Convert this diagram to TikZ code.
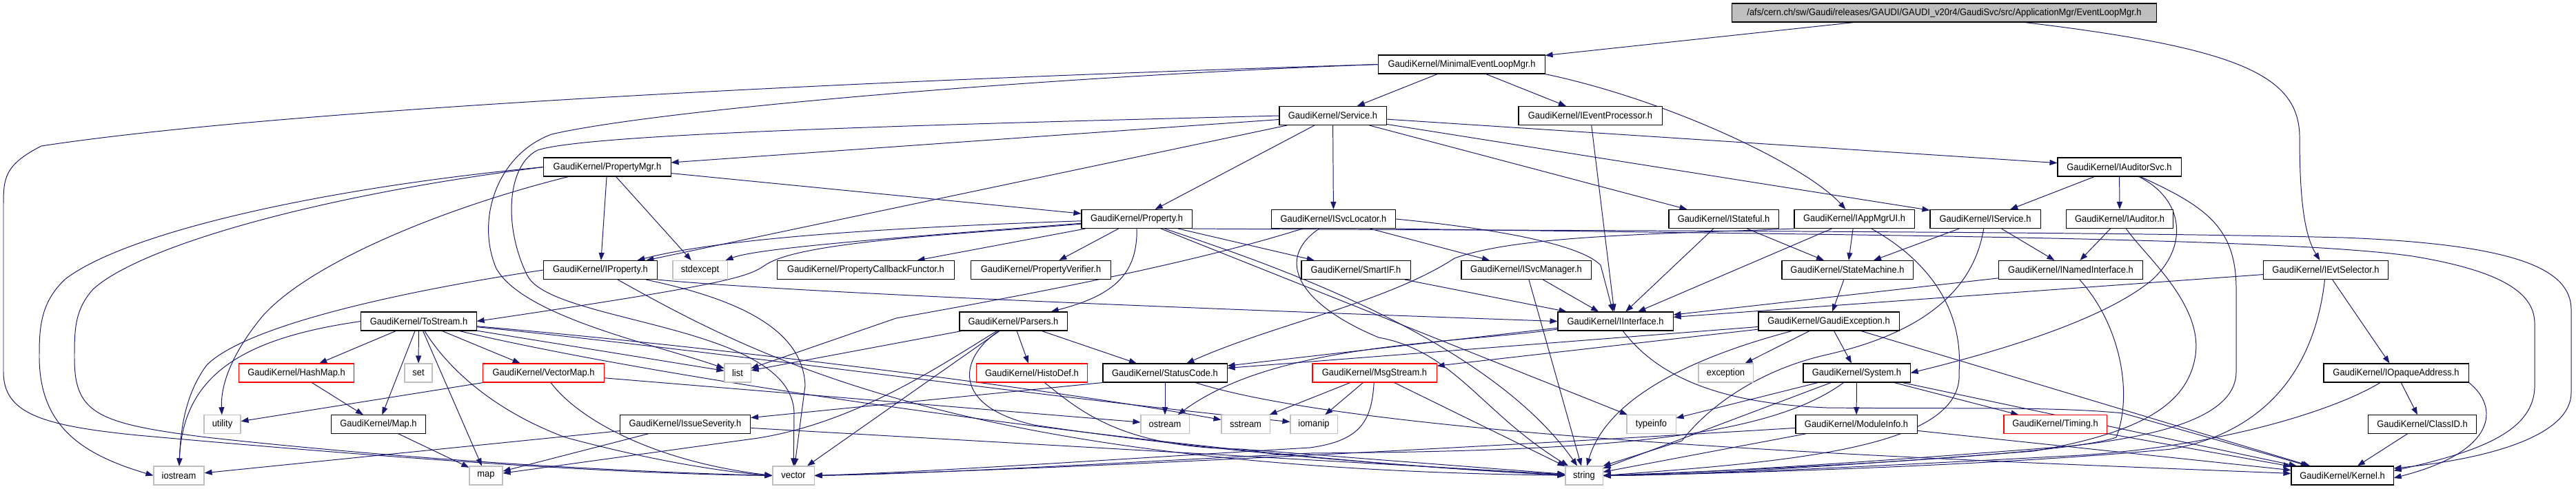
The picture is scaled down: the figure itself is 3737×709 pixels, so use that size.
\documentclass[tikz,border=0pt]{standalone}
\usepackage{fontspec}
\setmainfont{Liberation Sans}[FakeStretch=0.93]
\usetikzlibrary{arrows.meta,backgrounds}
\definecolor{edgeblue}{HTML}{191970}
\definecolor{sysgray}{HTML}{BFBFBF}
\begin{document}
\begin{tikzpicture}[x=0.01cm,y=-0.01cm,
  every node/.style={font=\fontsize{3.95}{4.7}\selectfont, inner sep=0pt, minimum height=0.27cm, fill=white, line width=0.3pt},
  kbox/.style={draw=black},
  rbox/.style={draw=red},
  gbox/.style={draw=sysgray},
  rootbox/.style={draw=black, fill=sysgray},
  dep/.style={draw=edgeblue, line width=0.28pt, -{Triangle[length=0.11cm,width=0.08cm]}}]
\useasboundingbox (0,0) rectangle (3737,709);
% row 1
\node[rootbox, minimum width=6.15cm] (root) at (2820.5,18.5) {/afs/cern.ch/sw/Gaudi/releases/GAUDI/GAUDI\_v20r4/GaudiSvc/src/ApplicationMgr/EventLoopMgr.h};
% row 2
\node[kbox, minimum width=2.41cm] (mel) at (2120.5,93.5) {GaudiKernel/MinimalEventLoopMgr.h};
% row 3
\node[kbox, minimum width=1.55cm] (svc) at (1933.5,168) {GaudiKernel/Service.h};
\node[kbox, minimum width=2.08cm] (ievproc) at (2307,168) {GaudiKernel/IEventProcessor.h};
% row 4
\node[kbox, minimum width=1.84cm] (pmgr) at (881,242.5) {GaudiKernel/PropertyMgr.h};
\node[kbox, minimum width=1.79cm] (audsvc) at (3074.5,242.5) {GaudiKernel/IAuditorSvc.h};
% row 5
\node[kbox, minimum width=1.60cm] (prop) at (1649,318) {GaudiKernel/Property.h};
\node[kbox, minimum width=1.80cm] (svcloc) at (1934.5,318) {GaudiKernel/ISvcLocator.h};
\node[kbox, minimum width=1.59cm] (istateful) at (2500.5,318) {GaudiKernel/IStateful.h};
\node[kbox, minimum width=1.74cm] (appmgr) at (2690,318) {GaudiKernel/IAppMgrUI.h};
\node[kbox, minimum width=1.60cm] (iservice) at (2880,318) {GaudiKernel/IService.h};
\node[kbox, minimum width=1.55cm] (auditor) at (3075,318) {GaudiKernel/IAuditor.h};
% row 6
\node[kbox, minimum width=1.64cm] (iprop) at (871,392) {GaudiKernel/IProperty.h};
\node[gbox, minimum width=0.79cm] (stdexc) at (1015.5,392) {stdexcept};
\node[kbox, minimum width=2.56cm] (pcf) at (1256,392) {GaudiKernel/PropertyCallbackFunctor.h};
\node[kbox, minimum width=2.02cm] (pverif) at (1510,392) {GaudiKernel/PropertyVerifier.h};
\node[kbox, minimum width=1.58cm] (smartif) at (1967,392) {GaudiKernel/SmartIF.h};
\node[kbox, minimum width=1.88cm] (svcmgr) at (2214,392) {GaudiKernel/ISvcManager.h};
\node[kbox, minimum width=1.90cm] (statem) at (2680,392) {GaudiKernel/StateMachine.h};
\node[kbox, minimum width=2.09cm] (namedif) at (3004,392) {GaudiKernel/INamedInterface.h};
\node[kbox, minimum width=1.81cm] (ievt) at (3374,392) {GaudiKernel/IEvtSelector.h};
% row 7
\node[kbox, minimum width=1.67cm] (tostream) at (607.5,466.5) {GaudiKernel/ToStream.h};
\node[kbox, minimum width=1.56cm] (parsers) at (1470,466.5) {GaudiKernel/Parsers.h};
\node[kbox, minimum width=1.67cm] (iinterface) at (2343.5,466.5) {GaudiKernel/IInterface.h};
\node[kbox, minimum width=2.04cm] (gexc) at (2653,466.5) {GaudiKernel/GaudiException.h};
% row 8
\node[rbox, minimum width=1.66cm] (hashmap) at (430,541.5) {GaudiKernel/HashMap.h};
\node[gbox, minimum width=0.40cm] (set) at (607,541.5) {set};
\node[rbox, minimum width=1.75cm] (vectormap) at (788.5,541.5) {GaudiKernel/VectorMap.h};
\node[gbox, minimum width=0.38cm] (list) at (1070,541.5) {list};
\node[rbox, minimum width=1.61cm] (histodef) at (1497,541.5) {GaudiKernel/HistoDef.h};
\node[kbox, minimum width=1.80cm] (statuscode) at (1690,541.5) {GaudiKernel/StatusCode.h};
\node[rbox, minimum width=1.80cm] (msgstream) at (1994,541.5) {GaudiKernel/MsgStream.h};
\node[gbox, minimum width=0.79cm] (exception) at (2503.5,541.5) {exception};
\node[kbox, minimum width=1.55cm] (system) at (2693.5,541.5) {GaudiKernel/System.h};
\node[kbox, minimum width=2.10cm] (iopaque) at (3476,541.5) {GaudiKernel/IOpaqueAddress.h};
% row 9
\node[gbox, minimum width=0.53cm, minimum height=0.265cm] (utility) at (322.5,616) {utility};
\node[kbox, minimum width=1.37cm, minimum height=0.265cm] (mapH) at (549,616) {GaudiKernel/Map.h};
\node[kbox, minimum width=1.89cm, minimum height=0.265cm] (issue) at (994,616) {GaudiKernel/IssueSeverity.h};
\node[gbox, minimum width=0.70cm, minimum height=0.265cm] (ostream) at (1690,616) {ostream};
\node[gbox, minimum width=0.70cm, minimum height=0.265cm] (sstream) at (1807,616) {sstream};
\node[gbox, minimum width=0.68cm, minimum height=0.265cm] (iomanip) at (1906,616) {iomanip};
\node[gbox, minimum width=0.71cm, minimum height=0.265cm] (typeinfo) at (2395.5,616) {typeinfo};
\node[kbox, minimum width=1.76cm, minimum height=0.265cm] (moduleinfo) at (2693,616) {GaudiKernel/ModuleInfo.h};
\node[rbox, minimum width=1.49cm, minimum height=0.265cm] (timing) at (2981.5,616) {GaudiKernel/Timing.h};
\node[kbox, minimum width=1.57cm, minimum height=0.265cm] (classid) at (3514,616) {GaudiKernel/ClassID.h};
% row 10
\node[gbox, minimum width=0.73cm] (iostream) at (259.5,690.5) {iostream};
\node[gbox, minimum width=0.48cm] (map) at (705,690.5) {map};
\node[gbox, minimum width=0.60cm] (vector) at (1151,690.5) {vector};
\node[gbox, minimum width=0.54cm] (string) at (2298,690.5) {string};
\node[kbox, minimum width=1.48cm] (kernel) at (3398,690.5) {GaudiKernel/Kernel.h};

\begin{scope}[on background layer]
\fill[white] (0,0) rectangle (3737,709);
% root
\draw[dep] (root) -- (mel);
\draw[dep] (root) .. controls (3250,70) and (3336,110) .. (3336,200) .. controls (3336,300) and (3345,345) .. (ievt);
% MinimalEventLoopMgr
\draw[dep] (mel) -- (svc);
\draw[dep] (mel) -- (ievproc);
\draw[dep] (mel.south east) .. controls (2420,145) and (2620,240) .. (appmgr);
\draw[dep] (mel.west) .. controls (1200,118) and (400,160) .. (60,212) .. controls (5,240) and (5,260) .. (5,300) -- (5,540) .. controls (5,600) and (60,618) .. (200,632) .. controls (600,668) and (900,688) .. (vector.west);
\draw[dep] (mel.west) .. controls (1500,112) and (950,160) .. (800,195) .. controls (720,225) and (690,320) .. (720,390) .. controls (760,460) and (950,500) .. (list);
% Service
\draw[dep] (svc) -- (pmgr);
\draw[dep] (svc) -- (iprop);
\draw[dep] (svc) -- (prop);
\draw[dep] (svc) -- (svcloc);
\draw[dep] (svc) -- (istateful);
\draw[dep] (svc) -- (audsvc);
\draw[dep] (svc) -- (iservice);
\draw[dep] (svc.west) .. controls (1300,182) and (850,195) .. (780,218) .. controls (735,240) and (730,330) .. (765,400) .. controls (800,470) and (1150,470) .. (1152,600) -- (vector);
% PropertyMgr
\draw[dep] (pmgr) -- (prop);
\draw[dep] (pmgr) -- (iprop);
\draw[dep] (pmgr) -- (stdexc);
\draw[dep] (pmgr.west) .. controls (450,275) and (180,340) .. (95,405) .. controls (57,440) and (57,480) .. (57,520) .. controls (58,620) and (120,660) .. (iostream.west);
\draw[dep] (pmgr.west) .. controls (450,285) and (200,360) .. (135,420) .. controls (108,450) and (108,480) .. (108,520) .. controls (108,600) and (140,615) .. (300,635) .. controls (600,668) and (900,685) .. (vector.west);
\draw[dep] (pmgr) .. controls (650,300) and (450,380) .. (380,460) .. controls (335,515) and (320,560) .. (utility);
% IAuditorSvc
\draw[dep] (audsvc) -- (iservice);
\draw[dep] (audsvc) -- (auditor);
\draw[dep] (audsvc) .. controls (3170,290) and (3175,360) .. (3120,408) .. controls (3050,465) and (2900,510) .. (system.east);
\draw[dep] (audsvc) .. controls (3200,300) and (3244,330) .. (3244,420) -- (3244,540) .. controls (3244,600) and (3150,632) .. (3000,648) .. controls (2700,672) and (2450,688) .. (string.east);
% IAuditor
\draw[dep] (auditor) -- (namedif);
\draw[dep] (auditor) .. controls (3110,370) and (3195,440) .. (3185,515) .. controls (3175,585) and (3110,628) .. (2950,655) .. controls (2650,678) and (2450,690) .. (string.east);
% Property
\draw[dep] (prop.south east) .. controls (2200,335) and (3000,335) .. (3400,345) .. controls (3650,355) and (3730,390) .. (3730,450) -- (3730,570) .. controls (3730,630) and (3620,665) .. ([yshift=3pt]kernel.east);
\draw[dep] (prop) -- (pverif);
\draw[dep] (prop) -- (pcf);
\draw[dep] (prop) .. controls (1650,395) and (1620,428) .. (parsers);
\draw[dep] (prop) .. controls (1400,340) and (1160,350) .. (1110,385) .. controls (1085,402) and (1060,412) .. (tostream.east);
\draw[dep] (prop) .. controls (1300,345) and (1100,360) .. (stdexc);
\draw[dep] (prop) .. controls (1300,330) and (1050,345) .. (iprop);
\draw[dep] (prop) -- (smartif);
\draw[dep] (prop) .. controls (1800,370) and (2150,480) .. (string);
\draw[dep] (prop) -- (typeinfo);
% ISvcLocator
\draw[dep] (svcloc.south east) .. controls (2600,341) and (3300,343) .. (3500,372) .. controls (3640,395) and (3677,430) .. (3677,470) -- (3677,560) .. controls (3677,625) and (3600,655) .. ([yshift=2pt]kernel.east);
\draw[dep] (svcloc) .. controls (1800,360) and (1650,400) .. (1300,462) -- (list);
\draw[dep] (svcloc) .. controls (1850,375) and (1880,440) .. (2000,490) .. controls (2110,510) and (2150,600) .. (string);
\draw[dep] (svcloc) -- (svcmgr);
\draw[dep] (svcloc.east) .. controls (2150,330) and (2290,352) .. (2322,385) -- (iinterface);
% IStateful
\draw[dep] (istateful) -- (iinterface);
\draw[dep] (istateful) -- (statem);
% IAppMgrUI
\draw[dep] (appmgr) -- (iinterface);
\draw[dep] (appmgr) -- (statem);
\draw[dep] (appmgr) .. controls (2800,380) and (2848,450) .. (2842,540) .. controls (2850,650) and (2600,670) .. (string.east);
\draw[dep] (appmgr.south west) .. controls (2400,340) and (2200,342) .. (2110,375) .. controls (2010,440) and (1850,470) .. (statuscode);
% IService
\draw[dep] (iservice) -- (namedif);
\draw[dep] (iservice) -- (statem);
\draw[dep] (iservice) .. controls (2860,440) and (2760,490) .. (2650,515) .. controls (2540,540) and (2470,600) .. (2440,640) -- (string.north east);
% IEventProcessor
\draw[dep] (ievproc) -- (iinterface);
% IProperty
\draw[dep] (iprop.south east) .. controls (1100,420) and (1500,440) .. (iinterface.west);
\draw[dep] (iprop.west) .. controls (600,420) and (360,470) .. (300,530) .. controls (270,570) and (262,620) .. (iostream);
\draw[dep] (iprop) .. controls (1100,520) and (1400,680) .. (string);
\draw[dep] (iprop) .. controls (1050,430) and (1165,470) .. (1168,560) -- (vector);
% SmartIF, ISvcManager, StateMachine
\draw[dep] (smartif) -- (iinterface);
\draw[dep] (svcmgr) -- (iinterface);
\draw[dep] (svcmgr) -- (string);
\draw[dep] (statem) -- (gexc);
% INamedInterface
\draw[dep] (namedif) -- (iinterface);
\draw[dep] (namedif) .. controls (3075,470) and (3095,570) .. (3070,635) .. controls (3000,660) and (2600,680) .. (string.east);
% IEvtSelector
\draw[dep] (ievt) -- (iinterface);
\draw[dep] (ievt) -- (iopaque);
\draw[dep] (ievt) .. controls (3360,520) and (3300,625) .. (3150,652) .. controls (2900,676) and (2500,688) .. (string.east);
% ToStream
\draw[dep] (tostream) -- (hashmap);
\draw[dep] (tostream) -- (set);
\draw[dep] (tostream) -- (mapH);
\draw[dep] (tostream) -- (vectormap);
\draw[dep] (tostream) -- (list);
\draw[dep] (tostream) -- (map);
\draw[dep] (tostream.west) .. controls (360,490) and (265,540) .. (iostream);
\draw[dep] (tostream) .. controls (1000,500) and (1500,560) .. (sstream);
\draw[dep] (tostream) .. controls (1000,505) and (1500,575) .. (iomanip);
\draw[dep] (tostream) .. controls (1000,560) and (1800,670) .. (string);
\draw[dep] (tostream) .. controls (640,520) and (700,590) .. (820,635) .. controls (950,670) and (1050,685) .. (vector.west);
% Parsers
\draw[dep] (parsers) -- (histodef);
\draw[dep] (parsers) -- (statuscode);
\draw[dep] (parsers) -- (list);
\draw[dep] (parsers) .. controls (1380,520) and (1250,612) .. (1100,636) -- (map);
\draw[dep] (parsers) -- (vector);
\draw[dep] (parsers) .. controls (1390,520) and (1380,590) .. (1500,617) .. controls (1800,662) and (2100,680) .. (string.west);
% HistoDef
\draw[dep] (histodef) .. controls (1560,590) and (1620,650) .. (1800,652) -- (string);
% StatusCode
\draw[dep] (statuscode) -- (ostream);
\draw[dep] (statuscode.south west) -- (issue);
\draw[dep] (statuscode) .. controls (2000,640) and (2900,670) .. (kernel);
% IssueSeverity
\draw[dep] (issue) -- (iostream);
\draw[dep] (issue) -- (map);
\draw[dep] (issue) -- (string);
% IInterface
\draw[dep] (iinterface) .. controls (2400,540) and (2480,585) .. (2650,592) .. controls (2850,594) and (2980,590) .. (3080,600) -- (kernel);
\draw[dep] (iinterface) -- (statuscode);
\draw[dep] (iinterface) .. controls (2100,500) and (1850,498) .. (ostream);
% GaudiException
\draw[dep] (gexc) -- (statuscode);
\draw[dep] (gexc) -- (msgstream);
\draw[dep] (gexc) -- (exception);
\draw[dep] (gexc) -- (system);
\draw[dep] (gexc) -- (kernel);
\draw[dep] (gexc) .. controls (2450,520) and (2330,580) .. (string);
% MsgStream
\draw[dep] (msgstream) -- (sstream);
\draw[dep] (msgstream) -- (iomanip);
\draw[dep] (msgstream) .. controls (1990,610) and (1975,640) .. (1900,650) .. controls (1600,668) and (1350,685) .. (vector.east);
\draw[dep] (msgstream) -- (string);
% System
\draw[dep] (system) -- (moduleinfo);
\draw[dep] (system) -- (timing);
\draw[dep] (system) -- (kernel);
\draw[dep] (system) -- (string);
\draw[dep] (system) -- (typeinfo);
\draw[dep] (system) .. controls (2560,640) and (2300,655) .. (1900,658) .. controls (1600,673) and (1350,688) .. (vector.east);
% ModuleInfo, Timing
\draw[dep] (moduleinfo) .. controls (2300,640) and (1600,680) .. (vector.east);
\draw[dep] (moduleinfo) -- (string);
\draw[dep] (moduleinfo) -- (kernel);
\draw[dep] (timing) -- (kernel);
% IOpaqueAddress, ClassID
\draw[dep] (iopaque) -- (classid);
\draw[dep] (iopaque.south east) .. controls (3625,590) and (3625,655) .. ([yshift=-1pt]kernel.east);
\draw[dep] (iopaque) .. controls (3380,600) and (3200,652) .. (3000,662) .. controls (2700,678) and (2450,690) .. (string.east);
\draw[dep] (classid) -- (kernel);
% HashMap, Map, VectorMap
\draw[dep] (hashmap) -- (mapH);
\draw[dep] (mapH) -- (map);
\draw[dep] (vectormap) -- (utility);
\draw[dep] (vectormap) .. controls (840,610) and (950,670) .. (vector.west);
\draw[dep] (vectormap) -- (ostream);
\end{scope}
\end{tikzpicture}
\end{document}
